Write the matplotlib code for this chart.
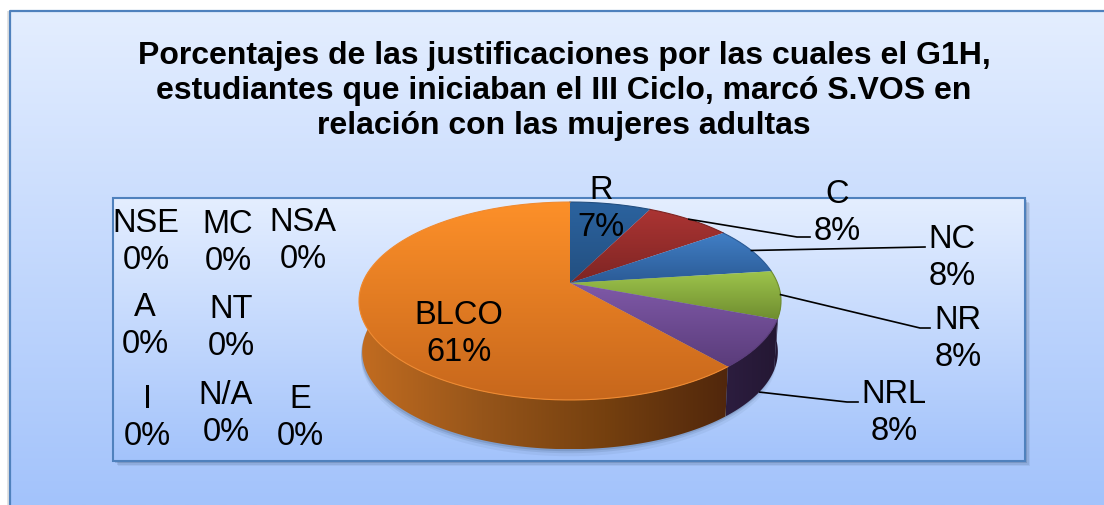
import numpy as np
import matplotlib
matplotlib.use('Agg')
import matplotlib.pyplot as plt
from matplotlib.patches import Polygon, Rectangle
from matplotlib.colors import LinearSegmentedColormap

plt.rcParams['font.family'] = ['Liberation Sans', 'DejaVu Sans']

title = 'Porcentajes de las justificaciones por las cuales el G1H,\nestudiantes que iniciaban el III Ciclo, marcó S.VOS en\nrelación con las mujeres adultas'

categories = ['R', 'C', 'NC', 'NR', 'NRL', 'BLCO']
values = [7.4, 7.8, 7.8, 7.8, 7.8, 61.4]
zero_categories = ['NSE', 'MC', 'NSA', 'A', 'NT', 'I', 'N/A', 'E']
zero_values = [0, 0, 0, 0, 0, 0, 0, 0]

# top and bottom shade of each slice
top_colors = ['#2b639f', '#ab3433', '#417fc6', '#9fc54c', '#7f59a8', '#fd9029']
bottom_colors = ['#234f80', '#7e2523', '#2b5b96', '#6f8e30', '#5a3c7a', '#c7671c']

# label centres in pixels
label_pos = {'R': (601, 209), 'C': (837, 213), 'NC': (952, 258), 'NR': (958, 339),
             'NRL': (894, 413), 'BLCO': (459, 334)}
zero_pos = {'NSE': (146, 242), 'MC': (228, 243), 'NSA': (303, 241), 'A': (145, 326),
            'NT': (231, 328), 'I': (147, 418), 'N/A': (226, 414), 'E': (300, 418)}
# where the leader lines bend and end
leaders = {'C': [(797, 238), (810, 238)], 'NC': [(925, 248)],
           'NR': [(920, 329), (930, 329)], 'NRL': [(847, 403), (858, 403)]}

cx, cy = 570, 284
k = 0.1818
depth = 51


def rim(t, scale=1.0, drop=0):
    # perspective view of the pie circle, t runs clockwise from the top
    u, v = np.sin(t), np.cos(t)
    d = 1 + k * v
    return cx + scale * 207.5 * u / d, cy + drop - scale * 95.7 * v / d


def gradient(ax, patch, c1, c2, horizontal=False, z=2, stops=None):
    ax.add_patch(patch)
    patch.set_facecolor('none')
    patch.set_edgecolor('none')
    patch.set_zorder(z)
    xy = patch.get_xy() if isinstance(patch, Polygon) else None
    if xy is None:
        x0, y0 = patch.get_xy()
        x1, y1 = x0 + patch.get_width(), y0 + patch.get_height()
    else:
        x0, y0 = xy.min(axis=0)
        x1, y1 = xy.max(axis=0)
    cols = stops if stops else [c1, c2]
    cmap = LinearSegmentedColormap.from_list('g', cols)
    g = np.linspace(0, 1, 256)
    g = g.reshape(1, -1) if horizontal else g.reshape(-1, 1)
    im = ax.imshow(g, cmap=cmap, extent=(x0, x1, y1, y0), aspect='auto', zorder=z, interpolation='bilinear')
    im.set_clip_path(patch)


fig = plt.figure(figsize=(11.04, 5.06), dpi=100)
ax = fig.add_axes([0, 0, 1, 1])
ax.axis('off')

# chart area
ax.add_patch(Rectangle((7, 12), 4, 494, fc='#b0b0b0', alpha=0.35, ec='none', zorder=1))
gradient(ax, Rectangle((10, 12), 1094, 494), '#e4eeff', '#a3c3fb', z=1.2)
ax.plot([10, 10, 1104], [506, 12, 12], color='#4f81bd', lw=1.6, zorder=1.4)

# plot area with its shadow
for i, a in zip([5, 3.5, 2], [0.08, 0.12, 0.18]):
    ax.add_patch(Rectangle((113 + i, 199 + i), 912, 263, fc='#26405f', alpha=a, ec='none', zorder=1.5))
gradient(ax, Rectangle((113, 199), 912, 263), '#e4eeff', '#a3c3fb', z=1.6)
ax.add_patch(Rectangle((113, 199), 912, 263, fc='none', ec='#4f81bd', lw=1.5, zorder=1.8))

fractions = np.array(values) / sum(values)
edges = np.concatenate([[0], np.cumsum(fractions)]) * 2 * np.pi

# soft shadow under the pie
tt = np.linspace(0, 2 * np.pi, 300)
for grow, a in zip([7, 4, 2], [0.06, 0.10, 0.14]):
    sx, sy = rim(tt, 0.985, depth + grow)
    ax.add_patch(Polygon(np.c_[sx - 1, sy], fc='#1d3350', alpha=a, ec='none', zorder=1.9))

# side wall, only the slices that reach the front
for i in [5, 4]:
    t = np.linspace(edges[i], edges[i + 1], 200)
    t = t[np.cos(t) < 0.13]
    top_x, top_y = rim(t)
    bot_x, bot_y = rim(t, 0.985, depth)
    wall = np.r_[np.c_[top_x, top_y], np.c_[bot_x, bot_y][::-1]]
    if categories[i] == 'BLCO':
        gradient(ax, Polygon(wall), None, None, horizontal=True, z=2,
                 stops=['#51270c', '#75400f', '#96551a', '#c26c20'][::-1])
    else:
        gradient(ax, Polygon(wall), '#2c1d3f', '#241733', horizontal=True, z=2)

# right end of the wall under the green slice
t = np.linspace(edges[3] + 0.2, edges[4], 60)
top_x, top_y = rim(t)
bot_x, bot_y = rim(t, 0.985, depth)
gradient(ax, Polygon(np.r_[np.c_[top_x, top_y], np.c_[bot_x, bot_y][::-1]]), '#2c1d3f', '#241733', z=1.95)

# top of the pie
for i, name in enumerate(categories):
    t = np.linspace(edges[i], edges[i + 1], 200)
    x, y = rim(t)
    gradient(ax, Polygon(np.r_[[[cx, cy]], np.c_[x, y]]), top_colors[i], bottom_colors[i], z=3)
    ax.plot(x, y, color=bottom_colors[i] if i < 5 else '#f08a30', lw=0.8, zorder=3.1)

# leader lines start at the middle of each slice
for name, pts in leaders.items():
    i = categories.index(name)
    mid = (edges[i] + edges[i + 1]) / 2
    x0, y0 = rim(mid, 1.0, depth - 3 if name == 'NRL' else 0)
    xs = [x0] + [p[0] for p in pts]
    ys = [y0] + [p[1] for p in pts]
    ax.plot(xs, ys, color='#000000', lw=1.2, zorder=4)

# labels
for name, val in zip(categories, values):
    x, y = label_pos[name]
    ax.text(x, y, f'{name}\n{val:.0f}%', ha='center', va='center', fontsize=23.5, linespacing=1.25, zorder=5)
for name, val in zip(zero_categories, zero_values):
    x, y = zero_pos[name]
    ax.text(x, y, f'{name}\n{val}%', ha='center', va='center', fontsize=23.5, linespacing=1.25, zorder=5)

ax.text(564, 91, title, ha='center', va='center', fontsize=23, fontweight='bold', linespacing=1.22, zorder=5)

ax.set_xlim(0, 1104)
ax.set_ylim(506, 0)
fig.savefig('out.png', dpi=100, facecolor='white')
